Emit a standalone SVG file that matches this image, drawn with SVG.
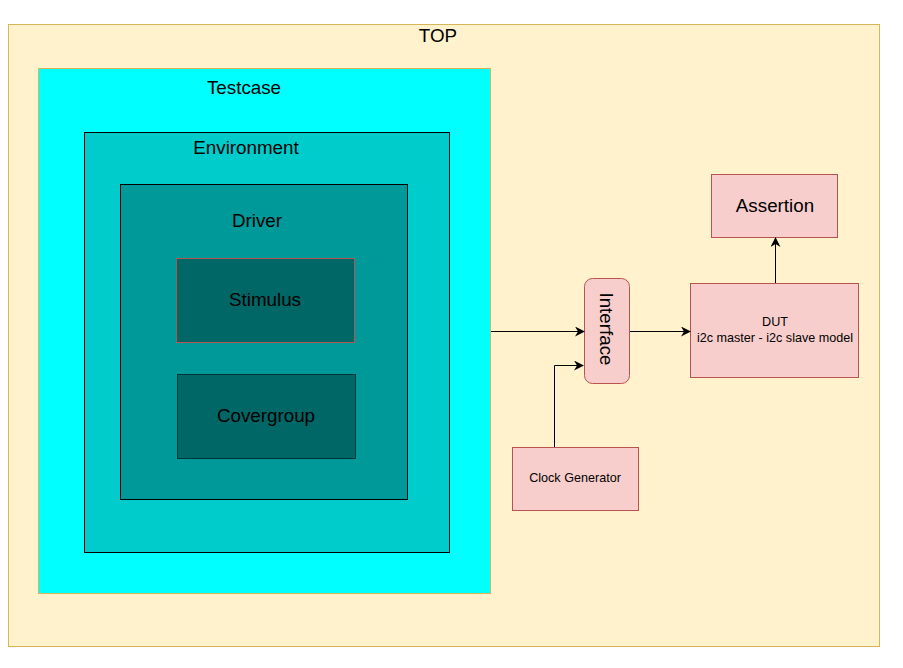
<svg xmlns="http://www.w3.org/2000/svg" width="903" height="668" viewBox="0 0 903 668">
<defs>
<style>
text{font-family:"Liberation Sans",Arial,sans-serif;fill:#000;text-anchor:middle;dominant-baseline:central}
.big{font-size:18.8px}
.small{font-size:12.6px}
.pink{fill:#f8cecc;stroke:#b85450;stroke-width:1}
.conn{stroke:#000;stroke-width:1;fill:none;marker-end:url(#ah)}
</style>
<marker id="ah" viewBox="0 0 10 10" refX="9" refY="5" markerWidth="10" markerHeight="10" markerUnits="userSpaceOnUse" orient="auto">
<path d="M0,0 L10,5 L0,10 L3,5 Z" fill="#000"/>
</marker>
</defs>
<rect width="903" height="668" fill="#fff"/>
<g id="top">
<rect x="8.5" y="24.5" width="871" height="622" fill="#fff2cc" stroke="#d6b656"/>
<text class="big" x="438" y="35">TOP</text>
</g>
<g id="testcase">
<rect x="38.5" y="68.5" width="452" height="525" fill="#00ffff" stroke="#d6b656"/>
<text class="big" x="244" y="87">Testcase</text>
</g>
<g id="environment">
<rect x="84.5" y="132.5" width="365" height="420" fill="#00cccc" stroke="#000"/>
<text class="big" x="246" y="147">Environment</text>
</g>
<g id="driver">
<rect x="120.5" y="184.5" width="287" height="315" fill="#009999" stroke="#000"/>
<text class="big" x="257" y="220">Driver</text>
</g>
<g id="stimulus">
<rect x="176.5" y="258.5" width="178" height="84" fill="#006666" stroke="#b85450"/>
<text class="big" x="265" y="299">Stimulus</text>
</g>
<g id="covergroup">
<rect x="177.5" y="374.5" width="178" height="84" fill="#006666" stroke="#003333"/>
<text class="big" x="266" y="415">Covergroup</text>
</g>
<g id="interface">
<rect x="584.5" y="278.5" width="45" height="105" rx="8" ry="8" class="pink"/>
<text class="big" x="0" y="0" transform="translate(606 329) rotate(90)">Interface</text>
</g>
<g id="dut">
<rect x="690.5" y="283.5" width="168" height="94" class="pink"/>
<text class="small" x="775" y="322">DUT</text>
<text class="small" x="775" y="338">i2c master - i2c slave model</text>
</g>
<g id="assertion">
<rect x="711.5" y="174.5" width="126" height="63" class="pink"/>
<text class="big" x="775" y="205">Assertion</text>
</g>
<g id="clock">
<rect x="512.5" y="447.5" width="126" height="63" class="pink"/>
<text class="small" x="575" y="478">Clock Generator</text>
</g>
<g id="connectors">
<path class="conn" d="M491,331.5 H584"/>
<path class="conn" d="M630,331.5 H690"/>
<path class="conn" d="M554.5,447 V365.5 H583"/>
<path class="conn" d="M775.5,283 V238"/>
</g>
</svg>
